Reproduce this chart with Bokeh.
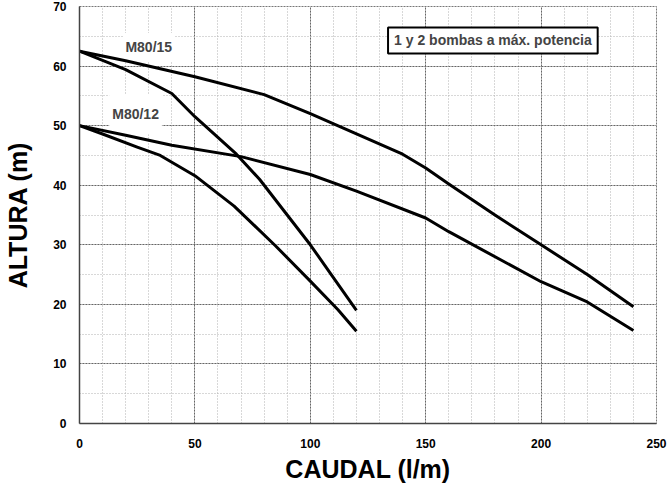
from bokeh.plotting import figure
from bokeh.models import Label, SingleIntervalTicker, Range1d
from bokeh.embed import file_html
from bokeh.resources import INLINE

# M80/15 – two pumps (upper) and one pump (steep)
m15_2_x = [0, 20, 50, 80, 100, 120, 140, 150, 160, 180, 200, 220, 240]
m15_2_y = [62.5, 60.9, 58.2, 55.2, 52.0, 48.6, 45.2, 42.9, 40.2, 35.0, 30.0, 25.0, 19.6]
m15_1_x = [0, 20, 40, 50, 68, 78, 90, 100, 110, 120]
m15_1_y = [62.5, 59.4, 55.4, 51.5, 45.2, 41.0, 35.0, 30.0, 24.5, 19.0]

# M80/12 – two pumps and one pump
m12_2_x = [0, 20, 40, 70, 100, 120, 150, 160, 200, 220, 240]
m12_2_y = [50.0, 48.4, 46.7, 44.8, 41.8, 39.0, 34.5, 32.2, 23.8, 20.4, 15.6]
m12_1_x = [0, 10, 25, 35, 50, 67, 85, 100, 112, 120]
m12_1_y = [50.0, 48.6, 46.4, 45.0, 41.6, 36.5, 29.8, 23.9, 19.1, 15.5]

FONT = "Liberation Sans"

p = figure(width=672, height=488, output_backend="svg", toolbar_location=None,
           x_range=Range1d(0, 250), y_range=Range1d(0, 70),
           min_border_left=79, min_border_right=16, min_border_top=6,
           min_border_bottom=65)
p.background_fill_color = "white"
p.outline_line_color = "#777777"
p.outline_line_dash = "2 1"

p.xaxis.ticker = SingleIntervalTicker(interval=50, num_minor_ticks=5)
p.yaxis.ticker = SingleIntervalTicker(interval=10, num_minor_ticks=2)

for g in (p.xgrid, p.ygrid):
    g.grid_line_color = "#666666"
    g.grid_line_dash = "2 1"
    g.grid_line_width = 1
    g.minor_grid_line_color = "#b0b0b0"
    g.minor_grid_line_dash = "1 2"
    g.minor_grid_line_width = 1

for ax in (p.xaxis, p.yaxis):
    ax.axis_line_color = "#444444"
    ax.axis_line_width = 1.5
    ax.major_tick_line_color = None
    ax.minor_tick_line_color = None
    ax.major_label_text_font = FONT
    ax.major_label_text_font_style = "bold"
    ax.major_label_text_font_size = "12px"
    ax.major_label_text_color = "black"
    ax.axis_label_text_font = FONT
    ax.axis_label_text_font_style = "bold"
    ax.axis_label_text_font_size = "25px"
    ax.axis_label_text_color = "black"

p.xaxis.major_label_standoff = 9
p.yaxis.major_label_standoff = 7
p.xaxis.axis_label = "CAUDAL (l/m)"
p.yaxis.axis_label = "ALTURA (m)"
p.xaxis.axis_label_standoff = 4
p.yaxis.axis_label_standoff = 18

# curve labels sit above the grid but beneath the curves
p.add_layout(Label(x=30, y=63.2, text="M80/15", text_font=FONT,
                   text_font_style="bold", text_font_size="14px",
                   text_align="center", text_baseline="middle",
                   background_fill_color="white", padding=(2, 6),
                   level="underlay"))
p.add_layout(Label(x=24.3, y=51.9, text="M80/12", text_font=FONT,
                   text_font_style="bold", text_font_size="14px",
                   text_align="center", text_baseline="middle",
                   background_fill_color="white", padding=(3, 12),
                   level="underlay"))

for xs, ys in ((m15_2_x, m15_2_y), (m15_1_x, m15_1_y),
               (m12_2_x, m12_2_y), (m12_1_x, m12_1_y)):
    p.line(xs, ys, line_color="black", line_width=3, line_join="round")

p.add_layout(Label(x=179.1, y=64.3, text="1 y 2 bombas a máx. potencia",
                   text_font=FONT, text_font_style="bold",
                   text_font_size="14px", text_align="center",
                   text_baseline="middle", background_fill_color="white",
                   border_line_color="black", border_line_width=2,
                   padding=(6, 5)))

open("out.html", "w").write(file_html(p, INLINE))
